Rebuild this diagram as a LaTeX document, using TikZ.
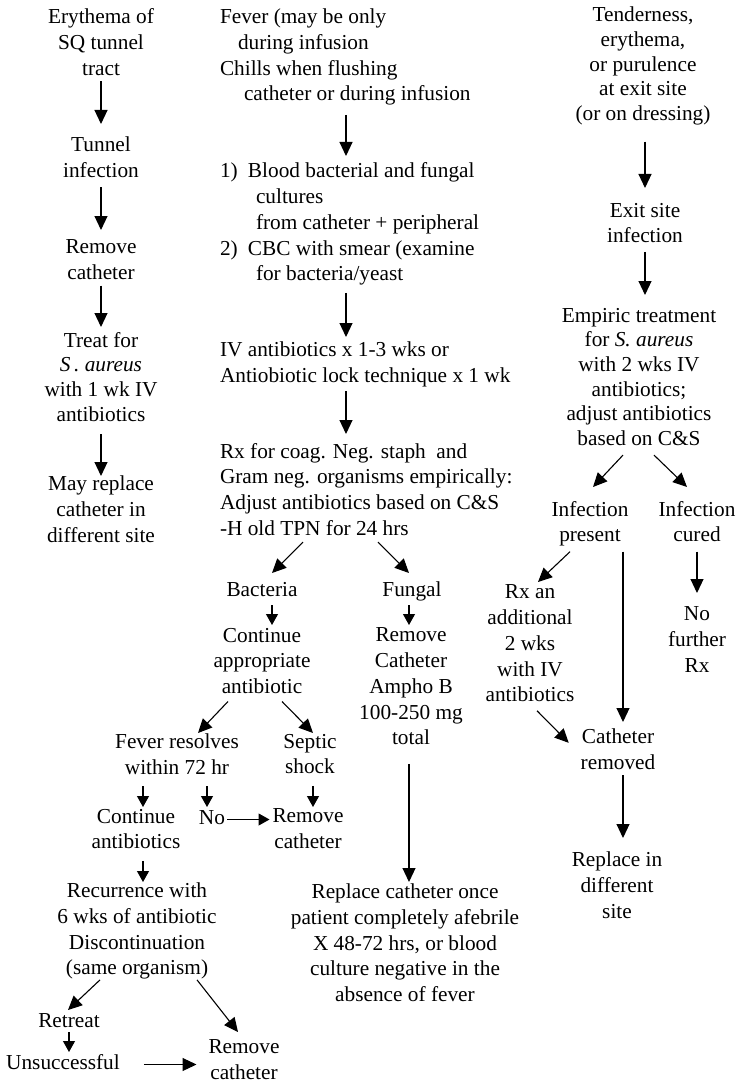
\documentclass[tikz,border=0pt]{standalone}
\usepackage{fontspec}
\setmainfont{Liberation Serif}
\usetikzlibrary{arrows.meta}
\begin{document}
\begin{tikzpicture}[x=1pt,y=-1pt,
  txt/.style={inner sep=0pt, outer sep=0pt, font=\fontsize{21.3}{25.7}\selectfont, align=center, anchor=north,
    execute at begin node={\rule{0pt}{15pt}}, execute at end node={\rule[-6pt]{0pt}{6pt}}},
  tight/.style={font=\fontsize{21.3}{24.7}\selectfont},
  ltxt/.style={txt, align=left, anchor=north west},
  arr/.style={line width=1.1pt, -{Triangle[length=14pt,width=13pt]}},
  sarr/.style={line width=1.1pt, -{Triangle[length=11pt,width=12pt]}},
]
\path[fill=white, use as bounding box] (0,0) rectangle (738,1086);

% left column
\node[txt] (n1) at (101,9) {Erythema of\\SQ tunnel\\tract};
\node[txt] (n2) at (101,137) {Tunnel\\infection};
\node[txt] (n3) at (101,240) {Remove\\catheter};
\node[txt,tight] (n4) at (101,332) {Treat for\\\textit{S\,. aureus}\\with 1 wk IV\\antibiotics};
\node[txt] (n5) at (101,476) {May replace\\catheter in\\different site};

% middle column
\node[ltxt] (c1) at (220,9) {Fever (may be only\\\hspace*{18pt}during infusion\\Chills when flushing\\\hspace*{24pt}catheter or during infusion};
\node[ltxt] (c2) at (220,163) {\makebox[28pt][l]{1)}Blood bacterial and fungal\\\hspace*{36pt}cultures\\\hspace*{36pt}from catheter + peripheral\\\makebox[28pt][l]{2)}CBC with smear (examine\\\hspace*{36pt}for bacteria/yeast};
\node[ltxt] (c3) at (220,342) {IV antibiotics x 1-3 wks or\\Antiobiotic lock technique x 1 wk};
\node[ltxt] (c4) at (220,443) {Rx for coag. Neg. staph~ and\\Gram neg. organisms empirically:\\Adjust antibiotics based on C\&S\\-H old TPN for 24 hrs};

\node[txt] (b1) at (262,581) {Bacteria};
\node[txt] (f1) at (412,581) {Fungal};
\node[txt] (b2) at (262,628) {Continue\\appropriate\\antibiotic};
\node[txt] (f2) at (411,628) {Remove\\Catheter\\Ampho B\\100-250 mg\\total};
\node[txt] (b3) at (177,734) {Fever resolves\\within 72 hr};
\node[txt] (b4) at (310,734) {Septic\\shock};
\node[txt] (b5) at (136,809) {Continue\\antibiotics};
\node[txt] (b6) at (212,809) {No};
\node[txt] (b7) at (308,809) {Remove\\catheter};
\node[txt] (b8) at (137,883) {Recurrence with\\6 wks of antibiotic\\Discontinuation\\(same organism)};
\node[txt] (b9) at (69,1012) {Retreat};
\node[txt] (b10) at (63,1054) {Unsuccessful};
\node[txt, execute at end node={}] (b11) at (244,1040) {Remove\\catheter};
\node[txt] (f3) at (405,884) {Replace catheter once\\patient completely afebrile\\X 48-72 hrs, or blood\\culture negative in the\\absence of fever};

% right column
\node[txt,tight] (r1) at (643,7) {Tenderness,\\erythema,\\or purulence\\at exit site\\(or on dressing)};
\node[txt] (r2) at (645,203) {Exit site\\infection};
\node[txt,tight] (r3) at (639,308) {Empiric treatment\\for \textit{S. aureus}\\with 2 wks IV\\antibiotics;\\adjust antibiotics\\based on C\&S};
\node[txt] (r4) at (590,501) {Infection\\present};
\node[txt] (r5) at (697,501) {Infection\\cured};
\node[txt] (r6) at (530,585) {Rx an\\additional\\2 wks\\with IV\\antibiotics};
\node[txt] (r7) at (697,607) {No\\further\\Rx};
\node[txt] (r8) at (618,729) {Catheter\\removed};
\node[txt] (r9) at (617,852) {Replace in\\different\\site};

% left arrows
\draw[arr] (n1.south) -- ([shift={(0,-13)}]n2.north);
\draw[arr] ([shift={(0,4)}]n2.south) -- ([shift={(0,-10)}]n3.north);
\draw[arr] (n3.south) -- ([shift={(0,-5)}]n4.north);
\draw[arr] ([shift={(0,7)}]n4.south) -- (n5.north);

% middle arrows
\draw[arr] ([shift={(126,8)}]c1.south west) -- ([shift={(126,-7)}]c2.north west);
\draw[arr] ([shift={(126,6)}]c2.south west) -- ([shift={(126,-5)}]c3.north west);
\draw[arr] ([shift={(126,3)}]c3.south west) -- ([shift={(126,-9)}]c4.north west);
\draw[arr] ([shift={(83,1)}]c4.south west) -- ([shift={(10,-8)}]b1.north);
\draw[arr] ([shift={(158,1)}]c4.south west) -- ([shift={(-3,-8)}]f1.north);
\draw[sarr] ([shift={(10,3)}]b1.south) -- ([shift={(10,-3)}]b2.north);
\draw[sarr] ([shift={(-3,3)}]f1.south) -- ([shift={(-2,-3)}]f2.north);
\draw[arr] ([shift={(-34,2)}]b2.south) -- ([shift={(21,-1)}]b3.north);
\draw[arr] ([shift={(20,2)}]b2.south) -- ([shift={(3,-1)}]b4.north);
\draw[sarr] ([shift={(-34,6)}]b3.south) -- ([shift={(7,-2)}]b5.north);
\draw[sarr] ([shift={(30,6)}]b3.south) -- ([shift={(-5,-2)}]b6.north);
\draw[sarr] ([shift={(3,6)}]b4.south) -- ([shift={(5,-2)}]b7.north);
\draw[sarr] ([xshift=2pt]b6.east) -- ([xshift=-3pt]b6.east -| b7.west);
\draw[sarr] ([shift={(7,6)}]b5.south) -- ([shift={(6,-1)}]b8.north);
\draw[arr] ([shift={(-37,-1)}]b8.south) -- ([shift={(-1,-2)}]b9.north);
\draw[arr] ([shift={(60,-1)}]b8.south) -- ([shift={(-6,-8)}]b11.north);
\draw[sarr] ([shift={(0,-1)}]b9.south) -- ([shift={(6,-2)}]b10.north);
\draw[arr] ([xshift=24pt]b10.east) -- ([xshift=-12pt]b10.east -| b11.west);
\draw[arr] ([shift={(-2,13)}]f2.south) -- ([shift={(4,-2)}]f3.north);

% right arrows
\draw[arr] ([shift={(2,15)}]r1.south) -- ([shift={(0,-15)}]r2.north);
\draw[arr] ([shift={(0,3)}]r2.south) -- ([shift={(6,-13)}]r3.north);
\draw[arr] ([shift={(-16,3.5)}]r3.south) -- ([shift={(3,-14)}]r4.north);
\draw[arr] ([shift={(15,3.5)}]r3.south) -- ([shift={(-10,-14)}]r5.north);
\draw[arr] ([shift={(-20,4)}]r4.south) -- ([shift={(8,-3)}]r6.north);
\draw[arr] ([shift={(33,4)}]r4.south) -- ([shift={(5,-7)}]r8.north);
\draw[arr] ([shift={(0,4)}]r5.south) -- ([shift={(0,-14)}]r7.north);
\draw[arr] ([shift={(7,3)}]r6.south) -- ([shift={(-12,-9.4)}]r8.west);
\draw[arr] ([shift={(5,0)}]r8.south) -- ([shift={(6,-14)}]r9.north);
\end{tikzpicture}
\end{document}
